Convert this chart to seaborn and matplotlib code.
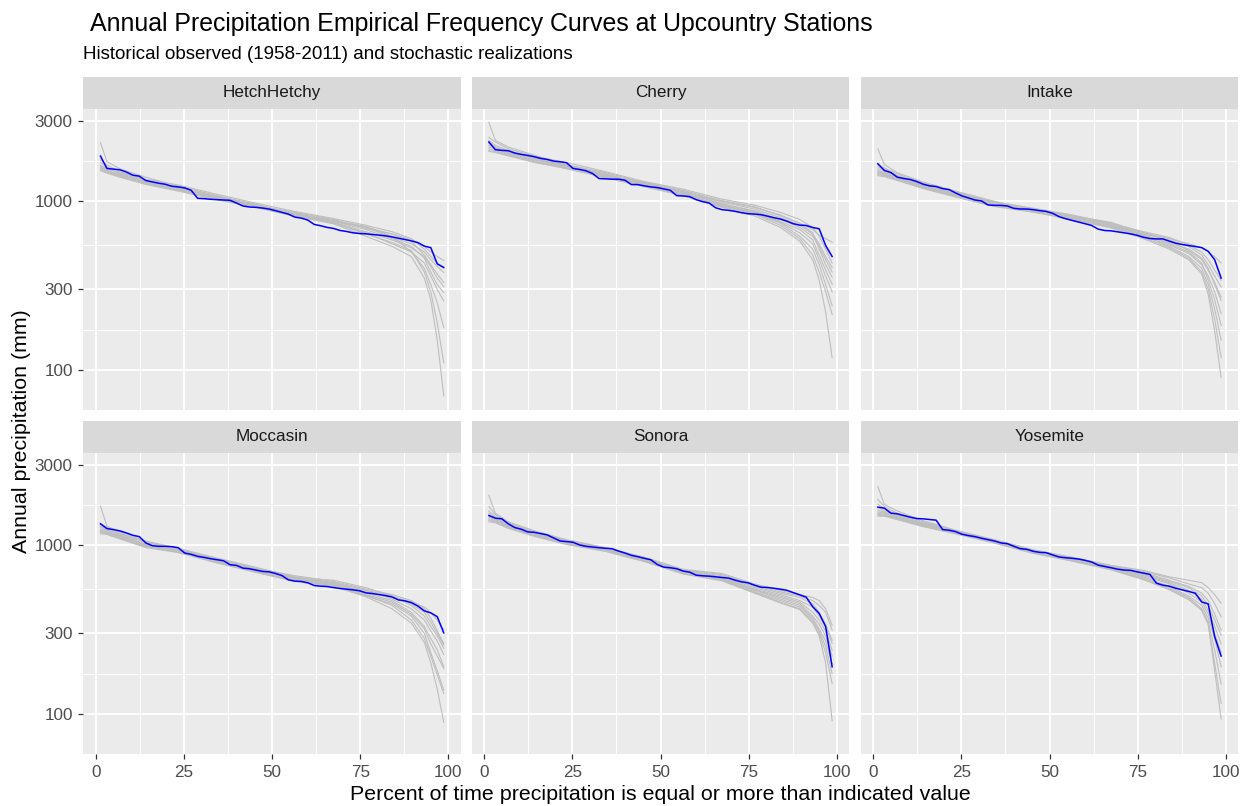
import numpy as np
import pandas as pd
import matplotlib
matplotlib.use("Agg")
import matplotlib.pyplot as plt
from matplotlib.patches import Rectangle
from matplotlib.ticker import FixedLocator, FixedFormatter, NullFormatter
import seaborn as sns

plt.rcParams["font.family"] = ["Liberation Sans", "DejaVu Sans"]

stations = ["HetchHetchy", "Cherry", "Intake", "Moccasin", "Sonora", "Yosemite"]
n_years = 54  # water years 1958-2011

# Historical annual totals (mm), sorted from wettest (rank 1) to driest (rank 54)
hist_hetchhetchy = [1856, 1567, 1553, 1539, 1492, 1430, 1410, 1329, 1304, 1281,
                    1263, 1229, 1218, 1201, 1163, 1042, 1037, 1028, 1023, 1018,
                    1014, 977, 938, 925, 921, 912, 900, 880, 860, 840,
                    806, 795, 774, 729, 716, 700, 690, 671, 662, 650,
                    644, 641, 635, 630, 624, 615, 604, 593, 582, 569,
                    542, 531, 425, 405]
hist_cherry = [2250, 2025, 2006, 1997, 1935, 1899, 1873, 1840, 1798, 1773,
               1733, 1717, 1694, 1567, 1546, 1518, 1463, 1366, 1359, 1353,
               1353, 1335, 1257, 1257, 1235, 1218, 1207, 1185, 1163, 1081,
               1076, 1066, 1023, 995, 977, 916, 892, 884, 872, 856,
               844, 840, 833, 817, 799, 785, 763, 736, 722, 719,
               699, 687, 546, 470]
hist_intake = [1671, 1525, 1483, 1391, 1366, 1347, 1310, 1263, 1235, 1224,
               1190, 1174, 1121, 1076, 1047, 1018, 1005, 951, 946, 946,
               938, 908, 900, 900, 892, 880, 871, 848, 810, 788,
               770, 753, 736, 719, 684, 671, 668, 659, 650, 641,
               629, 612, 601, 598, 598, 580, 564, 554, 546, 539,
               531, 505, 450, 350]
hist_moccasin = [1341, 1257, 1240, 1218, 1185, 1147, 1126, 1033, 995, 986,
                 986, 982, 968, 900, 884, 860, 848, 833, 821, 810,
                 767, 760, 732, 726, 713, 700, 696, 681, 662, 624,
                 613, 610, 599, 577, 572, 569, 561, 554, 549, 544,
                 537, 522, 517, 510, 503, 494, 474, 468, 457, 436,
                 408, 397, 377, 302]
hist_sonora = [1503, 1449, 1437, 1341, 1275, 1246, 1201, 1195, 1174, 1153,
               1106, 1061, 1052, 1042, 1005, 986, 977, 968, 960, 955,
               925, 900, 872, 856, 837, 821, 770, 742, 736, 726,
               703, 693, 665, 659, 656, 650, 644, 639, 621, 607,
               599, 580, 564, 562, 556, 549, 541, 524, 508, 492,
               432, 394, 329, 190]
hist_yosemite = [1685, 1663, 1552, 1538, 1503, 1469, 1442, 1436, 1423, 1410,
                 1240, 1229, 1206, 1163, 1142, 1126, 1101, 1081, 1061, 1033,
                 1023, 986, 955, 947, 921, 908, 904, 876, 852, 844,
                 837, 829, 814, 796, 763, 749, 736, 722, 713, 710,
                 696, 684, 672, 596, 580, 572, 556, 544, 532, 520,
                 461, 449, 287, 220]

# Stochastic realizations (mm), ten per station, at these ranks
sim_ranks = [1, 2, 4, 8, 13, 19, 25, 31, 37, 42, 46, 49, 51, 52, 53, 54]

sim_hetchhetchy = [
    [2230, 1720, 1560, 1390, 1230, 1080, 955, 850, 760, 700, 640, 590, 540, 500, 470, 445],
    [1760, 1640, 1500, 1350, 1250, 1100, 975, 870, 790, 720, 660, 600, 520, 470, 430, 400],
    [1620, 1580, 1470, 1320, 1200, 1060, 950, 845, 770, 700, 610, 560, 500, 450, 410, 378],
    [1700, 1600, 1450, 1300, 1190, 1050, 940, 860, 780, 690, 640, 580, 480, 420, 370, 330],
    [1580, 1530, 1420, 1310, 1210, 1070, 960, 840, 750, 660, 590, 530, 470, 410, 350, 311],
    [1640, 1550, 1480, 1340, 1180, 1040, 930, 830, 760, 680, 600, 540, 460, 380, 320, 287],
    [1560, 1500, 1400, 1280, 1170, 1030, 945, 850, 740, 650, 560, 500, 430, 360, 300, 256],
    [1600, 1520, 1440, 1290, 1160, 1045, 935, 835, 770, 710, 620, 500, 400, 320, 250, 178],
    [1540, 1490, 1410, 1270, 1175, 1055, 925, 820, 745, 640, 570, 510, 380, 290, 190, 110],
    [1520, 1470, 1390, 1260, 1150, 1020, 920, 815, 735, 620, 540, 470, 350, 260, 150, 70],
]
sim_cherry = [
    [2950, 2300, 2100, 1880, 1650, 1480, 1290, 1160, 1010, 930, 820, 740, 680, 630, 600, 571],
    [2400, 2250, 2050, 1850, 1700, 1500, 1310, 1180, 1030, 950, 860, 780, 700, 620, 520, 430],
    [2300, 2150, 2000, 1820, 1640, 1450, 1270, 1140, 990, 900, 800, 720, 640, 560, 470, 405],
    [2200, 2100, 1950, 1800, 1620, 1420, 1300, 1150, 960, 880, 780, 700, 620, 540, 450, 380],
    [2150, 2080, 1980, 1780, 1600, 1460, 1250, 1130, 1000, 920, 830, 740, 650, 520, 420, 354],
    [2100, 2050, 1920, 1760, 1610, 1400, 1280, 1120, 970, 870, 760, 680, 590, 480, 390, 322],
    [2050, 2000, 1900, 1740, 1580, 1430, 1260, 1100, 950, 860, 750, 650, 560, 450, 360, 290],
    [2000, 1970, 1880, 1720, 1560, 1390, 1240, 1110, 940, 850, 740, 620, 520, 420, 320, 240],
    [2250, 2100, 1940, 1790, 1630, 1410, 1230, 1090, 930, 840, 720, 600, 480, 380, 290, 213],
    [1980, 1950, 1860, 1700, 1570, 1380, 1220, 1080, 920, 820, 700, 580, 450, 340, 220, 118],
]
sim_intake = [
    [2050, 1650, 1480, 1300, 1150, 1000, 900, 820, 730, 650, 600, 560, 530, 500, 470, 430],
    [1650, 1580, 1450, 1290, 1130, 990, 910, 830, 740, 660, 610, 550, 500, 450, 390, 340],
    [1600, 1550, 1420, 1270, 1140, 980, 895, 810, 720, 640, 590, 540, 480, 420, 360, 310],
    [1560, 1520, 1400, 1250, 1120, 970, 900, 820, 750, 650, 580, 510, 450, 390, 330, 270],
    [1520, 1490, 1380, 1240, 1110, 960, 880, 800, 710, 630, 570, 520, 460, 400, 320, 258],
    [1500, 1470, 1370, 1230, 1100, 975, 890, 790, 700, 620, 550, 490, 420, 360, 290, 215],
    [1480, 1450, 1360, 1220, 1090, 950, 870, 780, 720, 635, 560, 500, 430, 340, 260, 183],
    [1460, 1440, 1350, 1210, 1080, 940, 860, 800, 740, 625, 540, 470, 400, 320, 230, 150],
    [1440, 1420, 1340, 1200, 1070, 955, 885, 785, 710, 610, 530, 460, 380, 300, 200, 118],
    [1420, 1400, 1330, 1190, 1060, 930, 865, 775, 695, 600, 520, 450, 370, 280, 170, 90],
]
sim_moccasin = [
    [1710, 1300, 1200, 1060, 960, 840, 740, 650, 600, 540, 500, 460, 430, 400, 360, 314],
    [1350, 1280, 1180, 1040, 950, 830, 730, 660, 610, 550, 510, 470, 420, 370, 310, 262],
    [1300, 1250, 1160, 1050, 940, 820, 720, 640, 590, 530, 490, 450, 400, 350, 300, 256],
    [1280, 1230, 1150, 1020, 930, 810, 725, 645, 620, 560, 500, 440, 380, 330, 290, 245],
    [1250, 1220, 1140, 1010, 920, 800, 715, 635, 600, 540, 480, 420, 360, 310, 270, 225],
    [1230, 1200, 1130, 1000, 935, 815, 710, 630, 595, 520, 470, 400, 330, 280, 240, 190],
    [1210, 1190, 1120, 990, 925, 805, 705, 625, 585, 510, 460, 390, 320, 260, 220, 186],
    [1200, 1180, 1110, 985, 915, 795, 700, 620, 580, 500, 450, 380, 300, 230, 180, 138],
    [1190, 1170, 1100, 980, 910, 790, 695, 615, 575, 505, 440, 360, 280, 220, 170, 132],
    [1170, 1160, 1090, 970, 905, 785, 690, 610, 570, 495, 420, 345, 265, 200, 140, 89],
]
sim_sonora = [
    [1980, 1550, 1380, 1220, 1080, 970, 850, 720, 680, 590, 540, 510, 490, 470, 420, 336],
    [1700, 1520, 1360, 1200, 1070, 965, 845, 715, 670, 580, 530, 500, 470, 440, 400, 314],
    [1600, 1480, 1340, 1190, 1060, 955, 840, 710, 660, 570, 520, 490, 450, 400, 340, 273],
    [1550, 1460, 1320, 1180, 1050, 950, 830, 705, 650, 560, 510, 470, 430, 380, 330, 262],
    [1500, 1440, 1310, 1170, 1040, 940, 825, 700, 640, 550, 500, 460, 400, 360, 310, 238],
    [1470, 1420, 1300, 1160, 1035, 945, 820, 695, 635, 545, 490, 450, 380, 340, 290, 220],
    [1440, 1400, 1290, 1150, 1030, 935, 815, 690, 630, 540, 480, 440, 370, 320, 270, 198],
    [1420, 1390, 1280, 1145, 1025, 930, 810, 685, 625, 530, 470, 430, 360, 310, 250, 173],
    [1400, 1380, 1270, 1140, 1020, 925, 805, 680, 620, 525, 460, 420, 350, 300, 230, 151],
    [1380, 1360, 1260, 1130, 1010, 920, 800, 675, 615, 520, 455, 415, 345, 290, 200, 91],
]
sim_yosemite = [
    [2230, 1750, 1600, 1400, 1230, 1080, 940, 850, 760, 710, 650, 620, 600, 560, 510, 453],
    [1870, 1700, 1550, 1380, 1220, 1075, 935, 845, 755, 700, 640, 590, 560, 520, 450, 377],
    [1750, 1650, 1520, 1360, 1210, 1070, 930, 840, 750, 690, 620, 570, 520, 470, 390, 314],
    [1680, 1600, 1500, 1350, 1200, 1060, 925, 835, 745, 680, 610, 560, 500, 440, 360, 293],
    [1620, 1570, 1480, 1340, 1195, 1055, 920, 830, 740, 670, 600, 540, 480, 410, 330, 260],
    [1580, 1550, 1460, 1330, 1190, 1050, 915, 825, 735, 660, 590, 520, 460, 390, 300, 230],
    [1550, 1530, 1450, 1320, 1185, 1045, 910, 820, 730, 650, 570, 500, 440, 370, 280, 190],
    [1530, 1510, 1440, 1310, 1180, 1040, 905, 815, 725, 640, 560, 490, 420, 350, 240, 150],
    [1510, 1500, 1430, 1300, 1175, 1035, 900, 810, 720, 630, 550, 480, 410, 340, 200, 115],
    [1490, 1490, 1420, 1290, 1170, 1030, 895, 805, 715, 625, 545, 475, 415, 344, 180, 93],
]

hist_by_station = dict(zip(stations, [hist_hetchhetchy, hist_cherry, hist_intake,
                                      hist_moccasin, hist_sonora, hist_yosemite]))
sim_by_station = dict(zip(stations, [sim_hetchhetchy, sim_cherry, sim_intake,
                                     sim_moccasin, sim_sonora, sim_yosemite]))


def exceedance_percent(rank):
    # median plotting position, as percent of time equalled or exceeded
    return (np.asarray(rank, dtype=float) - 0.3) / (n_years + 0.4) * 100


hist_rows, sim_rows = [], []
for st in stations:
    for r, v in enumerate(hist_by_station[st], start=1):
        hist_rows.append((st, float(exceedance_percent(r)), v))
    for k, series in enumerate(sim_by_station[st]):
        for r, v in zip(sim_ranks, series):
            sim_rows.append((st, k, float(exceedance_percent(r)), v))
hist_df = pd.DataFrame(hist_rows, columns=["station", "percent", "precip"])
sim_df = pd.DataFrame(sim_rows, columns=["station", "realization", "percent", "precip"])

# shared limits with 5% padding (log space for y)
all_p = pd.concat([hist_df["percent"], sim_df["percent"]])
all_v = np.log10(pd.concat([hist_df["precip"], sim_df["precip"]]))
xpad = 0.05 * (all_p.max() - all_p.min())
xlim = (all_p.min() - xpad, all_p.max() + xpad)
ypad = 0.05 * (all_v.max() - all_v.min())
ylim = (10 ** (all_v.min() - ypad), 10 ** (all_v.max() + ypad))

W, H = 1246, 806
fig = plt.figure(figsize=(W / 100, H / 100), dpi=100)
fig.patch.set_facecolor("white")

lefts = [83.3, 471.7, 860.7]
panel_w = 377.6
tops = [108.5, 452.5]
panel_h = 301.0
strip_h = 32.0

y_major = [100, 300, 1000, 3000]
y_minor = [57.74, 173.2, 547.7, 1732.1]
x_major = [0, 25, 50, 75, 100]
x_minor = [12.5, 37.5, 62.5, 87.5]

for i, st in enumerate(stations):
    row, col = divmod(i, 3)
    ax = fig.add_axes([lefts[col] / W, 1 - (tops[row] + panel_h) / H,
                       panel_w / W, panel_h / H])
    ax.set_facecolor("#EBEBEB")
    ax.set_axisbelow(True)
    ax.set_yscale("log")

    sns.lineplot(data=sim_df[sim_df["station"] == st], x="percent", y="precip",
                 units="realization", estimator=None, color="#BEBEBE",
                 linewidth=0.8, ax=ax, legend=False)
    sns.lineplot(data=hist_df[hist_df["station"] == st], x="percent", y="precip",
                 color="#0000FF", linewidth=1.1, ax=ax, legend=False)

    ax.set_xlim(xlim)
    ax.set_ylim(ylim)
    ax.set_xlabel("")
    ax.set_ylabel("")
    for s in ax.spines.values():
        s.set_visible(False)

    ax.yaxis.set_major_locator(FixedLocator(y_major))
    ax.yaxis.set_minor_locator(FixedLocator(y_minor))
    ax.yaxis.set_major_formatter(FixedFormatter([str(v) for v in y_major]))
    ax.yaxis.set_minor_formatter(NullFormatter())
    ax.xaxis.set_major_locator(FixedLocator(x_major))
    ax.xaxis.set_minor_locator(FixedLocator(x_minor))
    ax.xaxis.set_minor_formatter(NullFormatter())

    ax.grid(which="major", color="white", linewidth=1.3)
    ax.grid(which="minor", color="white", linewidth=0.65)
    ax.tick_params(which="minor", length=0)
    ax.tick_params(which="major", length=3.9, width=0.9, color="#333333",
                   labelsize=12.3, labelcolor="#4D4D4D")
    ax.tick_params(axis="y", pad=3.6, left=(col == 0), labelleft=(col == 0))
    ax.tick_params(axis="x", pad=4.4, bottom=(row == 1), labelbottom=(row == 1))

    ax.add_patch(Rectangle((0, 1), 1, strip_h / panel_h, transform=ax.transAxes,
                           facecolor="#D9D9D9", edgecolor="none", clip_on=False))
    ax.text(0.5, 1 + strip_h / 2 / panel_h, st, transform=ax.transAxes,
            ha="center", va="center", fontsize=12.3, color="#1A1A1A")

fig.text(90 / W, 1 - 31 / H, "Annual Precipitation Empirical Frequency Curves at Upcountry Stations",
         ha="left", va="baseline", fontsize=17.9, color="black")
fig.text(83 / W, 1 - 59 / H, "Historical observed (1958-2011) and stochastic realizations",
         ha="left", va="baseline", fontsize=13.5, color="black")
fig.text(22 / W, 1 - 431 / H, "Annual precipitation (mm)", rotation=90,
         ha="center", va="center", fontsize=15.4, color="black")
fig.text((83.3 + 1238) / 2 / W, 1 - 800.5 / H,
         "Percent of time precipitation is equal or more than indicated value",
         ha="center", va="baseline", fontsize=15.4, color="black")

fig.savefig("out.png", dpi=100)
